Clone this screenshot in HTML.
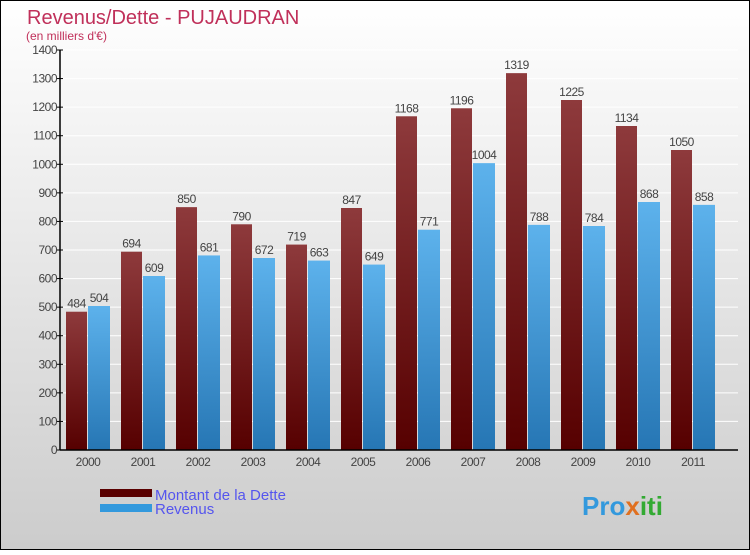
<!DOCTYPE html>
<html><head><meta charset="utf-8"><style>
body{margin:0}
#c{width:750px;height:550px;position:relative;font-family:"Liberation Sans",sans-serif}
</style></head><body>
<div id="c">
<svg id="s" width="750" height="550" xmlns="http://www.w3.org/2000/svg">
<defs>
<linearGradient id="bg" x1="0" y1="0" x2="0" y2="1"><stop offset="0" stop-color="#ffffff"/><stop offset="1" stop-color="#cccccc"/></linearGradient>
<linearGradient id="gd" x1="0" y1="0" x2="0" y2="1"><stop offset="0" stop-color="#8e3a3c"/><stop offset="1" stop-color="#560000"/></linearGradient>
<linearGradient id="gr" x1="0" y1="0" x2="0" y2="1"><stop offset="0" stop-color="#5db2ec"/><stop offset="1" stop-color="#2676b4"/></linearGradient>
</defs>
<rect x="0.5" y="0.5" width="749" height="549" fill="url(#bg)" stroke="#000"/>
<text x="27" y="24" font-size="20" fill="#c0305a">Revenus/Dette - PUJAUDRAN</text>
<text x="26" y="40" font-size="12" fill="#c0305a">(en milliers d'€)</text>
<g id="grid"></g><g id="bars"></g><g id="axes"></g>
<rect x="100" y="489" width="52" height="8" fill="#5a0000"/>
<rect x="100" y="504" width="52" height="8" fill="#3399dd"/>
<text x="155" y="500" font-size="15" fill="#5555ee">Montant de la Dette</text>
<text x="155" y="514" font-size="15" fill="#5555ee">Revenus</text>
<text x="582" y="515" font-size="26" font-weight="bold" fill="#3399dd">Pro<tspan fill="#e07020">x</tspan><tspan fill="#33aa33">iti</tspan></text>
</svg>
</div>
<script>
const years=["2000","2001","2002","2003","2004","2005","2006","2007","2008","2009","2010","2011"];
const dette=[484,694,850,790,719,847,1168,1196,1319,1225,1134,1050];
const revenus=[504,609,681,672,663,649,771,1004,788,784,868,858];
const ticks=[0,100,200,300,400,500,600,700,800,900,1000,1100,1200,1300,1400];
const NS="http://www.w3.org/2000/svg";
const X0=60,X1=738,Y0=450,Y1=50,MAX=1400,STEP=55;
const y=v=>Y0-(v/MAX)*(Y0-Y1);
const gx=i=>X0+6+i*STEP;
function mk(t,a,p){const e=document.createElementNS(NS,t);for(const k in a)e.setAttribute(k,a[k]);p.appendChild(e);return e;}
const G=document.getElementById('grid'),B=document.getElementById('bars'),A=document.getElementById('axes');
ticks.forEach(t=>{
 const l=mk('line',{x1:X0,x2:X1,y1:y(t),y2:y(t),stroke:'#ffffff','stroke-width':1},G);
 
 
 const tk=mk('line',{x1:X0-3,x2:X0+3,y1:y(t),y2:y(t),stroke:'#000'},A);
 
 
 const tx=mk('text',{x:X0-3,y:y(t)+4,'font-size':12,'text-anchor':'end',fill:'#444','letter-spacing':'-0.5'},A);
 tx.textContent=t;
 
 
});
years.forEach((yr,i)=>{
 const x=gx(i);
 const r1=mk('rect',{x:x,y:y(dette[i]),width:21,height:Y0-y(dette[i]),fill:'url(#gd)'},B);
 
 
 const r2=mk('rect',{x:x+22,y:y(revenus[i]),width:22,height:Y0-y(revenus[i]),fill:'url(#gr)'},B);
 
 
 const t1=mk('text',{x:x+10.5,y:y(dette[i])-4,'font-size':12,'text-anchor':'middle',fill:'#444','letter-spacing':'-0.5'},B);
 t1.textContent=dette[i];
 
 
 const t2=mk('text',{x:x+33,y:y(revenus[i])-4,'font-size':12,'text-anchor':'middle',fill:'#444','letter-spacing':'-0.5'},B);
 t2.textContent=revenus[i];
 
 
 const xl=mk('text',{x:x+22,y:Y0+16,'font-size':12,'text-anchor':'middle',fill:'#444','letter-spacing':'-0.5'},A);
 xl.textContent=yr;
 
 
});
const ya=mk('line',{x1:X0,x2:X0,y1:Y1,y2:Y0,stroke:'#000','stroke-width':1.5},A);


const xa=mk('line',{x1:X0,x2:X1,y1:Y0,y2:Y0,stroke:'#000','stroke-width':1.5},A);


</script>
</body></html>
